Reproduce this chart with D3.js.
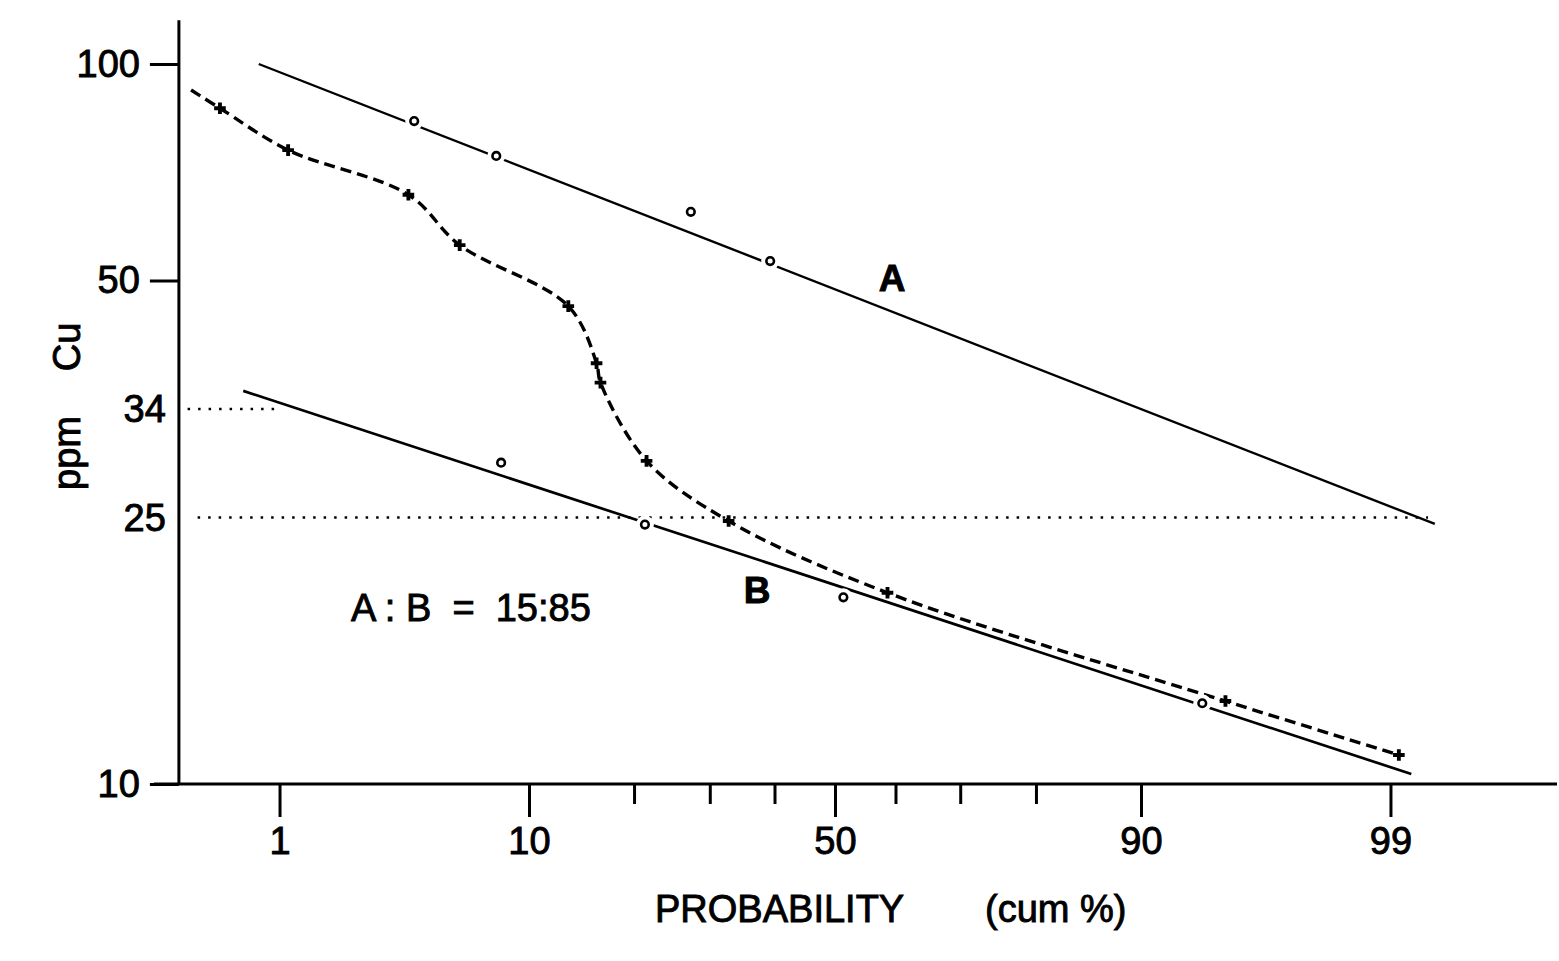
<!DOCTYPE html>
<html>
<head>
<meta charset="utf-8">
<script src="https://cdn.jsdelivr.net/npm/d3@7"></script>
<style>
    body { margin: 0; background: #fff; }
    text { font-family: "Liberation Sans", Arial, sans-serif; fill: #000; stroke: #000; stroke-width: 0.9px; }
</style>
</head>
<body>
<div class="chartCanvas"></div>
<script>
// ppm Cu plotted on log-probability paper, two populations A and B

const svgWidth = 1559;
const svgHeight = 961;

const yTicks = [10, 50, 100];
const xMajorTicks = [1, 10, 50, 90, 99];
const xMinorTicks = [20, 30, 40, 60, 70, 80];

// fitted straight lines for population A and B (end points)
const lineAProb = [0.79, 99.4];
const lineAPpm = [100, 24.45];
const lineBProb = [0.66, 99.21];
const lineBPpm = [35.9, 10.35];

// partitioned points
const popAProb = [3.9, 7.8, 27.3, 39.3];
const popAPpm = [83.3, 74.5, 62.3, 53.2];
const popBProb = [8.1, 21.3, 51.4, 93.8];
const popBPpm = [29.2, 24.4, 19.0, 13.2];

// observed (mixed) curve, first value is just where the dashed curve starts
const mixProb = [0.35, 0.5, 1.1, 3.7, 5.8, 13.2, 15.9, 16.3, 21.5, 32.8, 58.7, 94.9, 99.09];
const mixPpm = [92.0, 86.8, 75.9, 65.8, 56.0, 46.3, 39.0, 36.8, 29.35, 24.7, 19.3, 13.3, 11.05];

// dotted threshold levels
const refLevels = [34, 25];
const refProbs = [[0.335, 0.98], [0.38, 99.35]];

// inverse normal cdf (Acklam), used for the probability axis
function probit(p) {
    const a = [-3.969683028665376e+01, 2.209460984245205e+02, -2.759285104469687e+02, 1.383577518672690e+02, -3.066479806614716e+01, 2.506628277459239e+00];
    const b = [-5.447609879822406e+01, 1.615858368580409e+02, -1.556989798598866e+02, 6.680131188771972e+01, -1.328068155288572e+01];
    const c = [-7.784894002430293e-03, -3.223964580411365e-01, -2.400758277161838e+00, -2.549732539343734e+00, 4.374664141464968e+00, 2.938163982698783e+00];
    const d = [7.784695709041462e-03, 3.224671290700398e-01, 2.445134137142996e+00, 3.754408661907416e+00];
    const pLow = 0.02425;
    if (p < pLow) {
        const q = Math.sqrt(-2 * Math.log(p));
        return (((((c[0] * q + c[1]) * q + c[2]) * q + c[3]) * q + c[4]) * q + c[5]) / ((((d[0] * q + d[1]) * q + d[2]) * q + d[3]) * q + 1);
    }
    if (p <= 1 - pLow) {
        const q = p - 0.5, r = q * q;
        return (((((a[0] * r + a[1]) * r + a[2]) * r + a[3]) * r + a[4]) * r + a[5]) * q / (((((b[0] * r + b[1]) * r + b[2]) * r + b[3]) * r + b[4]) * r + 1);
    }
    const q = Math.sqrt(-2 * Math.log(1 - p));
    return -(((((c[0] * q + c[1]) * q + c[2]) * q + c[3]) * q + c[4]) * q + c[5]) / ((((d[0] * q + d[1]) * q + d[2]) * q + d[3]) * q + 1);
}

const x = d3.scaleLinear().domain([probit(0.10), probit(0.90)]).range([529, 1141]);
const xp = p => x(probit(p / 100));
// hand drawn log axis, calibrated on its labelled levels
const y = d3.scaleLog().domain([10, 25, 34, 50, 100]).range([784, 517.5, 409, 280.5, 64]);

const axisLeftX = xp(0.30);
const axisBottomY = y(10);

const svg = d3.select(".chartCanvas")
    .append("svg")
    .attr("width", svgWidth)
    .attr("height", svgHeight);

// axis lines
svg.append("line")
    .attr("x1", axisLeftX).attr("x2", axisLeftX)
    .attr("y1", y(115)).attr("y2", axisBottomY)
    .attr("stroke", "#000").attr("stroke-width", 3);
svg.append("line")
    .attr("x1", axisLeftX - 25).attr("x2", svgWidth - 2)
    .attr("y1", axisBottomY).attr("y2", axisBottomY)
    .attr("stroke", "#000").attr("stroke-width", 3);

function styleAxis(g) {
    g.select(".domain").remove();
    g.attr("font-family", "Liberation Sans, Arial, sans-serif").attr("font-size", 38);
    g.selectAll(".tick line").attr("stroke", "#000").attr("stroke-width", 3);
    g.selectAll(".tick text").attr("fill", "#000");
}

svg.append("g")
    .attr("transform", `translate(${axisLeftX},0)`)
    .call(d3.axisLeft(y).tickValues(yTicks).tickFormat(d3.format("d")).tickSize(29).tickPadding(10))
    .call(styleAxis);

svg.append("g")
    .attr("transform", `translate(0,${axisBottomY})`)
    .call(d3.axisBottom(x)
        .tickValues(xMajorTicks.map(p => probit(p / 100)))
        .tickFormat((d, i) => xMajorTicks[i])
        .tickSize(33).tickPadding(10))
    .call(styleAxis);

svg.append("g")
    .attr("transform", `translate(0,${axisBottomY})`)
    .call(d3.axisBottom(x)
        .tickValues(xMinorTicks.map(p => probit(p / 100)))
        .tickFormat("")
        .tickSize(20))
    .call(styleAxis);

// dotted levels with their labels
refLevels.forEach((level, i) => {
    svg.append("line")
        .attr("x1", xp(refProbs[i][0])).attr("x2", xp(refProbs[i][1]))
        .attr("y1", y(level)).attr("y2", y(level))
        .attr("stroke", "#000").attr("stroke-width", 2.5)
        .attr("stroke-dasharray", "2.5,8");
    svg.append("text")
        .attr("x", axisLeftX - 13).attr("y", y(level))
        .attr("dy", "0.35em")
        .attr("text-anchor", "end")
        .attr("font-size", 38)
        .text(level);
});

const line = d3.line().x(d => xp(d[0])).y(d => y(d[1]));

svg.append("path")
    .datum(d3.zip(lineAProb, lineAPpm))
    .attr("d", line)
    .attr("fill", "none").attr("stroke", "#000").attr("stroke-width", 2.4);
svg.append("path")
    .datum(d3.zip(lineBProb, lineBPpm))
    .attr("d", line)
    .attr("fill", "none").attr("stroke", "#000").attr("stroke-width", 2.7);

const mixData = d3.zip(mixProb, mixPpm);
svg.append("path")
    .datum(mixData)
    .attr("d", line.curve(d3.curveCatmullRom.alpha(0.5)))
    .attr("fill", "none").attr("stroke", "#000").attr("stroke-width", 3.4)
    .attr("stroke-dasharray", "11,6");

svg.append("g")
    .selectAll("path")
    .data(mixData.slice(1))
    .join("path")
    .attr("transform", d => `translate(${xp(d[0])},${y(d[1])})`)
    .attr("d", d3.symbol().type(d3.symbolCross).size(75))
    .attr("fill", "#000");

const popPoints = d3.zip(popAProb, popAPpm).concat(d3.zip(popBProb, popBPpm));

// the lines are broken around the circles
svg.append("g")
    .selectAll("circle")
    .data(popPoints)
    .join("circle")
    .attr("cx", d => xp(d[0])).attr("cy", d => y(d[1]))
    .attr("r", 9)
    .attr("fill", "#fff");

svg.append("g")
    .selectAll("circle")
    .data(popPoints)
    .join("circle")
    .attr("cx", d => xp(d[0])).attr("cy", d => y(d[1]))
    .attr("r", 3.8)
    .attr("fill", "#fff").attr("stroke", "#000").attr("stroke-width", 2.6);

// labels
svg.append("text")
    .attr("x", 892).attr("y", 291)
    .attr("text-anchor", "middle").attr("font-size", 37).attr("font-weight", "bold")
    .text("A");
svg.append("text")
    .attr("x", 757).attr("y", 603)
    .attr("text-anchor", "middle").attr("font-size", 37).attr("font-weight", "bold")
    .text("B");
svg.append("text")
    .attr("x", 351).attr("y", 621)
    .attr("font-size", 38)
    .attr("xml:space", "preserve")
    .text("A : B  =  15:85");

svg.append("text")
    .attr("x", 655).attr("y", 922)
    .attr("font-size", 38)
    .text("PROBABILITY");
svg.append("text")
    .attr("x", 985).attr("y", 922)
    .attr("font-size", 38)
    .text("(cum %)");

svg.append("text")
    .attr("transform", "translate(80,453) rotate(-90)")
    .attr("text-anchor", "middle").attr("font-size", 38)
    .text("ppm");
svg.append("text")
    .attr("transform", "translate(80,347) rotate(-90)")
    .attr("text-anchor", "middle").attr("font-size", 38)
    .text("Cu");
</script>
</body>
</html>
